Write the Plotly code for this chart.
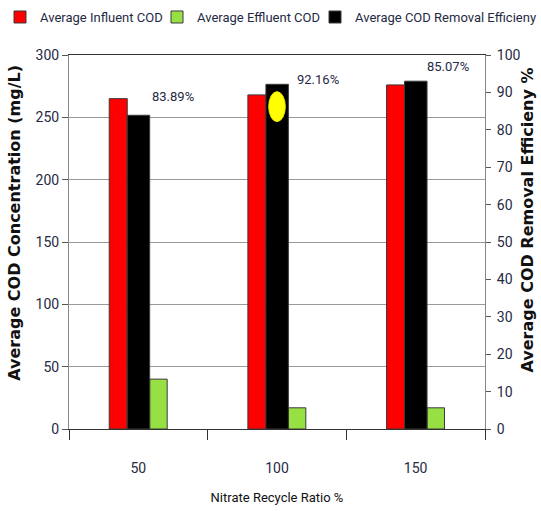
import plotly.graph_objects as go

# ── Data ──────────────────────────────────────────────────────────────────────
ratios = ["50", "100", "150"]
influent_cod = [265, 268, 276]
effluent_cod = [40, 17, 17]
removal_eff = [83.89, 92.16, 93.0]
eff_labels = ["83.89%", "92.16%", "85.07%"]
label_dx = [0.085, 0.13, 0.065]
label_dy = [5.0, 1.2, 4.0]

TEXT = "#1f2a44"
FONT = "Roboto"
OUTLINE = dict(color="#3a3a3a", width=1)

fig = go.Figure()

fig.add_trace(go.Bar(
    x=ratios, y=influent_cod, name="Average Influent COD",
    marker=dict(color="#FF0000", line=OUTLINE),
    offset=-0.21, width=0.13, legend="legend",
))
fig.add_trace(go.Bar(
    x=ratios, y=effluent_cod, name="Average Effluent COD",
    marker=dict(color="#96E044", line=OUTLINE),
    offset=0.082, width=0.126, legend="legend2",
))
fig.add_trace(go.Bar(
    x=ratios, y=removal_eff, name="Average COD Removal Efficieny",
    marker=dict(color="#000000", line=OUTLINE),
    offset=-0.08, width=0.162, yaxis="y2", legend="legend3",
))

# percentage labels next to the efficiency bars
for i, (txt, v) in enumerate(zip(eff_labels, removal_eff)):
    fig.add_annotation(
        x=i + label_dx[i], y=v + label_dy[i], xref="x", yref="y2",
        text=txt, showarrow=False, xanchor="left", yanchor="middle",
        font=dict(family=FONT, size=13, color=TEXT),
    )

# yellow highlight on the 100 % efficiency bar
fig.add_shape(
    type="circle", xref="x", yref="y2",
    x0=0.94, x1=1.06, y0=82.2, y1=90.2,
    fillcolor="#FFFF00", line=dict(color="#E8E800", width=1),
    layer="above",
)

# axis titles
TITLE_FONT = dict(family="DejaVu Sans", size=16, color="#111111", weight="bold")
fig.add_annotation(
    x=-0.13, y=0.551, xref="paper", yref="paper", textangle=-90,
    xanchor="center", yanchor="middle",
    text="Average COD Concentration (mg/L)", showarrow=False, font=TITLE_FONT,
)
fig.add_annotation(
    x=1.13, y=0.559, xref="paper", yref="paper", textangle=-90,
    xanchor="right", yanchor="middle",
    text="Average COD Removal Efficieny %", showarrow=False, font=TITLE_FONT,
)

legend_style = dict(
    orientation="h", xref="container", yref="container",
    y=0.996, xanchor="left", yanchor="top", itemwidth=30,
    bgcolor="rgba(0,0,0,0)",
    font=dict(family=FONT, size=13, color=TEXT),
)

fig.update_layout(
    width=541, height=511,
    margin=dict(l=69, r=56, t=55, b=82, autoexpand=False),
    paper_bgcolor="white", plot_bgcolor="white",
    barmode="overlay", showlegend=True,
    font=dict(family=FONT, size=14, color=TEXT),
    legend=dict(legend_style, x=0.0),
    legend2=dict(legend_style, x=157 / 541),
    legend3=dict(legend_style, x=315 / 541),
    xaxis=dict(
        type="category", tickson="boundaries", ticks="outside", ticklen=10,
        tickcolor="#333333", showline=True, linecolor="#333333", mirror=True,
        showgrid=False, ticklabelstandoff=26, automargin=False,
        title=dict(text="Nitrate Recycle Ratio %", standoff=18,
                   font=dict(family=FONT, size=13, color="#111111")),
    ),
    yaxis=dict(
        range=[0, 300], dtick=50, ticks="outside", ticklen=6,
        tickcolor="#555555", showline=True, linecolor="#888888",
        showgrid=True, gridcolor="#999999", gridwidth=1,
        zeroline=False, automargin=False,
    ),
    yaxis2=dict(
        range=[0, 100], dtick=10, overlaying="y", side="right",
        ticks="outside", ticklen=5, tickcolor="#555555",
        showline=True, linecolor="#888888", showgrid=False, zeroline=False,
        automargin=False, ticklabelstandoff=3,
    ),
)

fig.write_html(
    "out.html",
    config={"displayModeBar": False},
    post_script="document.body.style.margin = '0';",
)
